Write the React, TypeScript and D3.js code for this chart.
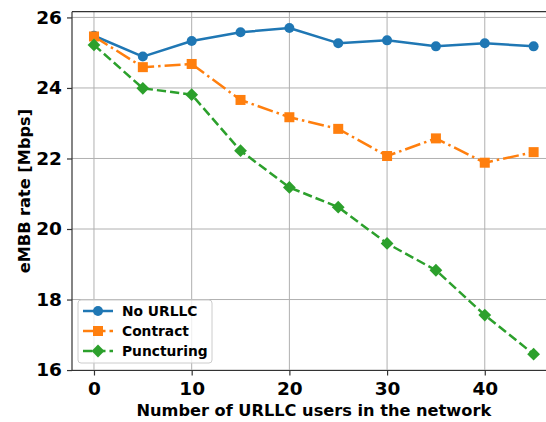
import React, { useRef, useEffect } from 'react';
import * as d3 from 'd3';

const USERS = [0, 5, 10, 15, 20, 25, 30, 35, 40, 45];
const NO_URLLC = [25.48, 24.89, 25.33, 25.58, 25.70, 25.27, 25.35, 25.18, 25.27, 25.18];
const CONTRACT = [25.46, 24.59, 24.68, 23.66, 23.17, 22.84, 22.07, 22.57, 21.88, 22.18];
const PUNCTURING = [25.22, 23.99, 23.81, 22.22, 21.18, 20.62, 19.59, 18.83, 17.56, 16.45];
const X_TICKS = [0, 10, 20, 30, 40];
const Y_TICKS = [16, 18, 20, 22, 24, 26];

const SERIES = [
  { name: 'No URLLC', values: NO_URLLC, color: '#1f77b4', dash: null, marker: 'circle' },
  { name: 'Contract', values: CONTRACT, color: '#ff7f0e', dash: '16,4,2.5,4', marker: 'square' },
  { name: 'Puncturing', values: PUNCTURING, color: '#2ca02c', dash: '9.25,4', marker: 'diamond' },
];

const W = 546;
const H = 422;
const PLOT = { left: 72, right: 555.6, top: 11.7, bottom: 370.5 };
const FONT = 'DejaVu Sans';

const drawMarker = (g, kind, x, y, color) => {
  if (kind === 'circle') {
    g.append('circle').attr('cx', x).attr('cy', y).attr('r', 5).attr('fill', color);
  } else if (kind === 'square') {
    g.append('rect').attr('x', x - 5).attr('y', y - 5).attr('width', 10).attr('height', 10).attr('fill', color);
  } else {
    const s = 6.4;
    g.append('path').attr('d', `M${x},${y - s}L${x + s},${y}L${x},${y + s}L${x - s},${y}Z`).attr('fill', color);
  }
};

export default function App() {
  const svgRef = useRef<SVGSVGElement>(null);

  useEffect(() => {
    if (!svgRef.current) return;
    const svg = d3.select(svgRef.current);
    svg.selectAll('*').remove();

    svg.append('rect').attr('width', W).attr('height', H).attr('fill', '#ffffff');

    const x = d3.scaleLinear().domain([-2.25, 47.25]).range([PLOT.left, PLOT.right]);
    const y = d3.scaleLinear().domain([15.9875, 26.1625]).range([PLOT.bottom, PLOT.top]);

    svg.append('defs').append('clipPath').attr('id', 'plot-clip')
      .append('rect')
      .attr('x', PLOT.left).attr('y', PLOT.top)
      .attr('width', PLOT.right - PLOT.left).attr('height', PLOT.bottom - PLOT.top);

    // grid
    const grid = svg.append('g');
    grid.selectAll('line.gx').data(X_TICKS).join('line')
      .attr('x1', d => x(d)).attr('x2', d => x(d))
      .attr('y1', PLOT.top).attr('y2', PLOT.bottom)
      .attr('stroke', '#b0b0b0').attr('stroke-width', 1);
    grid.selectAll('line.gy').data(Y_TICKS).join('line')
      .attr('class', 'gy')
      .attr('x1', PLOT.left).attr('x2', PLOT.right)
      .attr('y1', d => y(d)).attr('y2', d => y(d))
      .attr('stroke', '#b0b0b0').attr('stroke-width', 1);

    // series
    const plot = svg.append('g').attr('clip-path', 'url(#plot-clip)');
    SERIES.forEach(s => {
      const line = d3.line<number>()
        .x((_, i) => x(USERS[i]))
        .y(d => y(d));
      plot.append('path')
        .attr('d', line(s.values))
        .attr('fill', 'none')
        .attr('stroke', s.color)
        .attr('stroke-width', 2.5)
        .attr('stroke-dasharray', s.dash)
        .attr('stroke-linejoin', 'round');
      s.values.forEach((v, i) => drawMarker(plot, s.marker, x(USERS[i]), y(v), s.color));
    });

    // spines
    svg.append('line').attr('x1', PLOT.left).attr('x2', PLOT.left).attr('y1', PLOT.top).attr('y2', PLOT.bottom)
      .attr('stroke', '#333').attr('stroke-width', 1.2);
    svg.append('line').attr('x1', PLOT.left).attr('x2', PLOT.right).attr('y1', PLOT.bottom).attr('y2', PLOT.bottom)
      .attr('stroke', '#333').attr('stroke-width', 1.2);
    svg.append('line').attr('x1', PLOT.left).attr('x2', PLOT.right).attr('y1', PLOT.top).attr('y2', PLOT.top)
      .attr('stroke', '#333').attr('stroke-width', 1.2);

    // x axis
    svg.append('g')
      .attr('transform', `translate(0,${PLOT.bottom})`)
      .call(d3.axisBottom(x).tickValues(X_TICKS).tickSize(5).tickPadding(6).tickFormat(d => String(d)))
      .call(ax => ax.select('.domain').remove())
      .call(ax => ax.selectAll('line').attr('stroke', '#333').attr('stroke-width', 1.2))
      .call(ax => ax.selectAll('text').attr('fill', '#000').attr('font-family', FONT)
        .attr('font-weight', 'bold').attr('font-size', '18.5px'));

    // y axis
    svg.append('g')
      .attr('transform', `translate(${PLOT.left},0)`)
      .call(d3.axisLeft(y).tickValues(Y_TICKS).tickSize(5).tickPadding(5).tickFormat(d => String(d)))
      .call(ax => ax.select('.domain').remove())
      .call(ax => ax.selectAll('line').attr('stroke', '#333').attr('stroke-width', 1.2))
      .call(ax => ax.selectAll('text').attr('fill', '#000').attr('font-family', FONT)
        .attr('font-weight', 'bold').attr('font-size', '18.5px'));

    // axis labels
    svg.append('text')
      .attr('x', (PLOT.left + PLOT.right) / 2).attr('y', 416)
      .attr('text-anchor', 'middle').attr('font-family', FONT).attr('font-weight', 'bold')
      .attr('font-size', '16.2px').attr('fill', '#000')
      .text('Number of URLLC users in the network');
    svg.append('text')
      .attr('transform', `translate(30,${(PLOT.top + PLOT.bottom) / 2}) rotate(-90)`)
      .attr('text-anchor', 'middle').attr('font-family', FONT).attr('font-weight', 'bold')
      .attr('font-size', '16.2px').attr('fill', '#000')
      .text('eMBB rate [Mbps]');

    // legend
    const lg = svg.append('g').attr('transform', 'translate(78,300)');
    lg.append('rect').attr('width', 134).attr('height', 63).attr('rx', 3)
      .attr('fill', '#ffffff').attr('fill-opacity', 0.8)
      .attr('stroke', '#cccccc').attr('stroke-width', 1);
    SERIES.forEach((s, i) => {
      const row = lg.append('g').attr('transform', `translate(0,${11 + i * 20})`);
      row.append('line').attr('x1', 5).attr('x2', 35).attr('y1', 0).attr('y2', 0)
        .attr('stroke', s.color).attr('stroke-width', 2.5).attr('stroke-dasharray', s.dash);
      drawMarker(row, s.marker, 20, 0, s.color);
      row.append('text').attr('x', 44).attr('y', 5)
        .attr('font-family', FONT).attr('font-weight', 'bold').attr('font-size', '13.8px')
        .attr('fill', '#000').text(s.name);
    });
  }, []);

  return (
    <div style={{ position: 'fixed', left: 0, top: 0 }}>
      <svg ref={svgRef} width={W} height={H} style={{ display: 'block' }} />
    </div>
  );
}
